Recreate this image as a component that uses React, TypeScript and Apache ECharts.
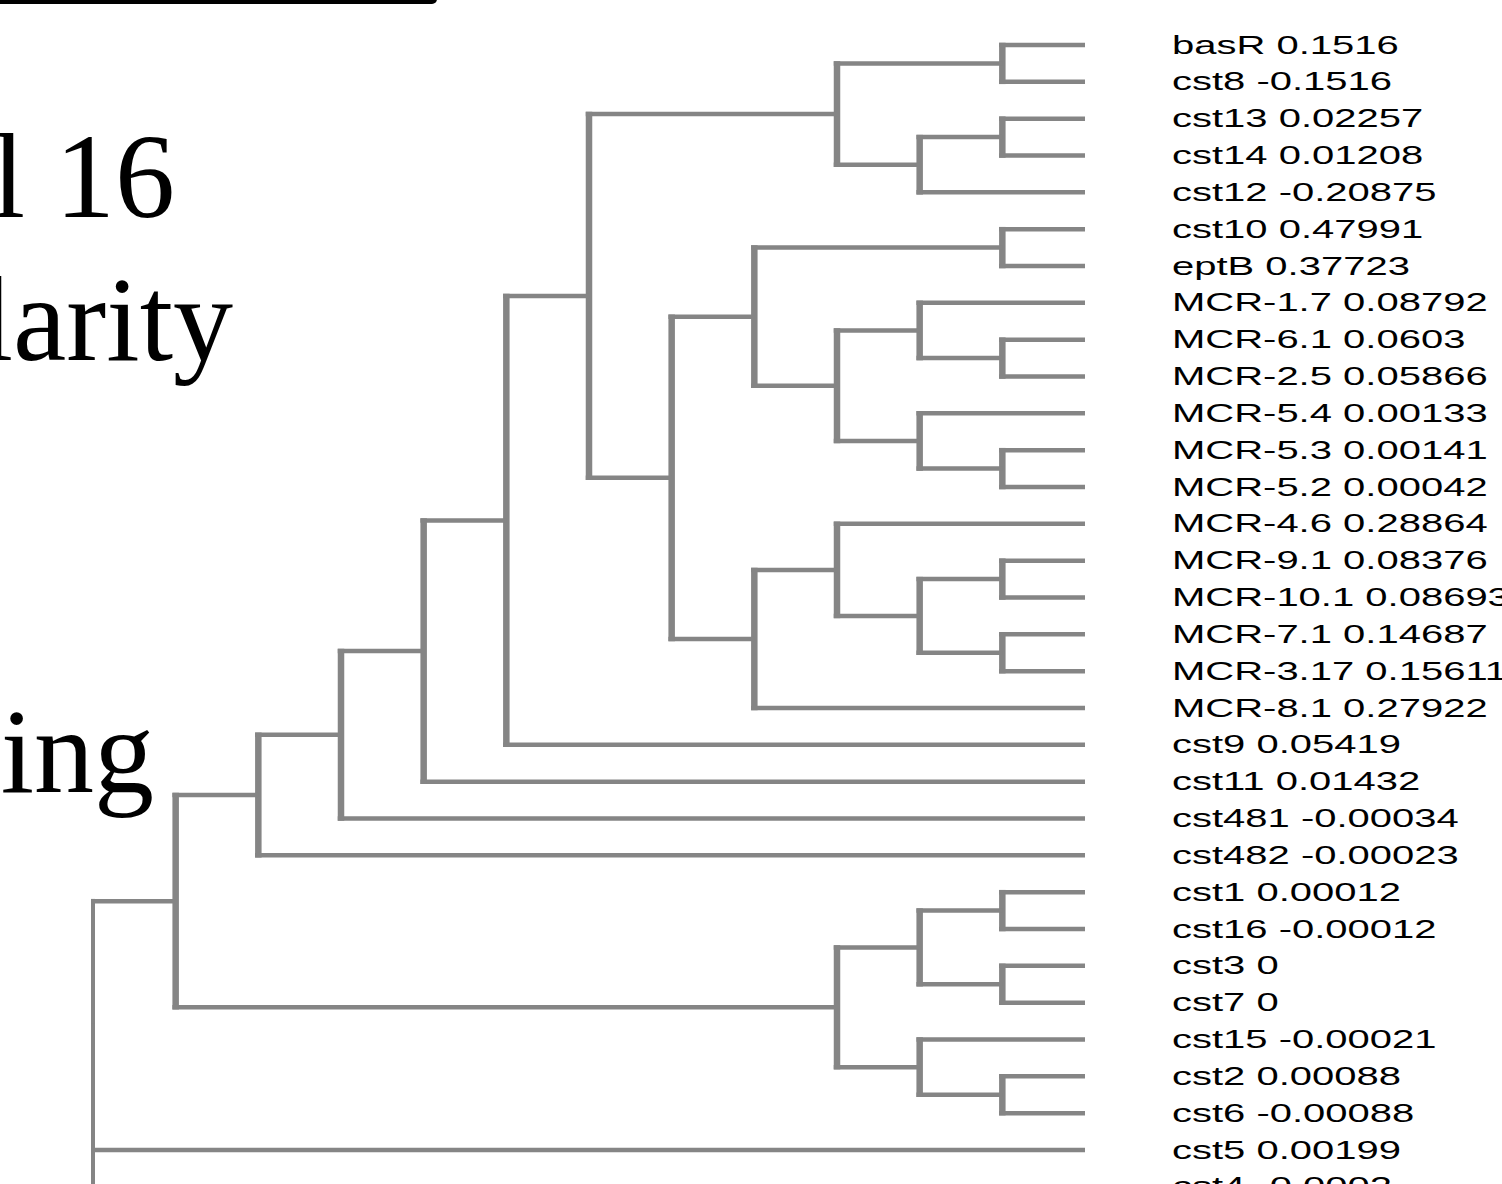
import { useEffect, useRef } from 'react';
import * as echarts from 'echarts';

const leafNames = [
  'basR', 'cst8', 'cst13', 'cst14', 'cst12', 'cst10', 'eptB', 'MCR-1.7', 'MCR-6.1', 'MCR-2.5',
  'MCR-5.4', 'MCR-5.3', 'MCR-5.2', 'MCR-4.6', 'MCR-9.1', 'MCR-10.1', 'MCR-7.1', 'MCR-3.17', 'MCR-8.1',
  'cst9', 'cst11', 'cst481', 'cst482', 'cst1', 'cst16', 'cst3', 'cst7', 'cst15', 'cst2', 'cst6', 'cst5', 'cst4',
];
const leafValues = [
  0.1516, -0.1516, 0.02257, 0.01208, -0.20875, 0.47991, 0.37723, 0.08792, 0.0603, 0.05866,
  0.00133, 0.00141, 0.00042, 0.28864, 0.08376, 0.08693, 0.14687, 0.15611, 0.27922,
  0.05419, 0.01432, -0.00034, -0.00023, 0.00012, -0.00012, 0, 0, -0.00021, 0.00088, -0.00088, 0.00199, -0.0002,
];
// hclust-style merges: [left, right, height]; negative = leaf (1-based), positive = earlier merge row (1-based)
const merges: [number, number, number][] = [
  [-1, -2, 1],
  [-3, -4, 1],
  [2, -5, 2],
  [1, 3, 3],
  [-6, -7, 1],
  [-9, -10, 1],
  [-8, 6, 2],
  [-12, -13, 1],
  [-11, 8, 2],
  [7, 9, 3],
  [5, 10, 4],
  [-15, -16, 1],
  [-17, -18, 1],
  [12, 13, 2],
  [-14, 14, 3],
  [15, -19, 4],
  [11, 16, 5],
  [4, 17, 6],
  [18, -20, 7],
  [19, -21, 8],
  [20, -22, 9],
  [21, -23, 10],
  [-24, -25, 1],
  [-26, -27, 1],
  [23, 24, 2],
  [-29, -30, 1],
  [-28, 26, 2],
  [25, 27, 3],
  [22, 28, 11],
  [29, -31, 12],
  [30, -32, 12],
];
const titleLines = ['l 16', 'larity', 'ing'];

export default function App() {
  const ref = useRef<HTMLDivElement>(null);
  useEffect(() => {
    if (!ref.current) return;
    const chart = echarts.init(ref.current, undefined, { renderer: 'svg' });

    const nodeY: number[] = [];
    const nodeH: number[] = [];
    const segData: number[][] = [];
    const pos = (r: number) => (r < 0 ? { y: -r - 1, h: 0 } : { y: nodeY[r - 1], h: nodeH[r - 1] });
    merges.forEach(([a, b, h]) => {
      const A = pos(a);
      const B = pos(b);
      nodeY.push((A.y + B.y) / 2);
      nodeH.push(h);
      segData.push([h, A.y, A.h, B.y, B.h]);
    });
    const maxH = Math.max(...merges.map((m) => m[2]));
    const leafLabels = leafNames.map((n, i) => `${n} ${leafValues[i]}`);
    const leafData = leafNames.map((_, i) => [0, i]);

    const color = '#858585';
    const hw = 4.5;
    const serif = '"Liberation Serif", "Times New Roman", serif';

    chart.setOption({
      animation: false,
      backgroundColor: '#ffffff',
      grid: { left: 93, width: 992, top: 45, height: 1105 },
      xAxis: { type: 'value', min: 0, max: 12, inverse: true, show: false },
      yAxis: { type: 'value', min: 0, max: 30, inverse: true, show: false },
      graphic: [
        { type: 'rect', shape: { x: -10, y: -30, width: 447, height: 34, r: 5 }, style: { fill: '#000' } },
        {
          type: 'text', x: 175, y: 176,
          style: { text: titleLines[0], fontSize: 120, fontFamily: serif, fill: '#000', align: 'right', verticalAlign: 'middle' },
        },
        {
          type: 'text', x: 233, y: 319,
          style: { text: titleLines[1], fontSize: 120, fontFamily: serif, fill: '#000', align: 'right', verticalAlign: 'middle' },
        },
        {
          type: 'text', x: 154, y: 751,
          style: { text: titleLines[2], fontSize: 120, fontFamily: serif, fill: '#000', align: 'right', verticalAlign: 'middle' },
        },
      ],
      series: [
        {
          type: 'custom',
          coordinateSystem: 'cartesian2d',
          clip: false,
          encode: { x: 0, y: 1 },
          data: segData,
          renderItem: (params: any, api: any) => {
            const h = api.value(0);
            const y1 = api.value(1);
            const h1 = api.value(2);
            const y2 = api.value(3);
            const h2 = api.value(4);
            const p = api.coord([h, y1]);
            const q = api.coord([h, y2]);
            const c1 = api.coord([h1, y1]);
            const c2 = api.coord([h2, y2]);
            const vw = h >= maxH ? 4 : 6.5;
            return {
              type: 'group',
              children: [
                { type: 'line', shape: { x1: c1[0], y1: c1[1], x2: p[0] - vw / 2, y2: p[1] }, style: { stroke: color, lineWidth: hw } },
                { type: 'line', shape: { x1: c2[0], y1: c2[1], x2: q[0] - vw / 2, y2: q[1] }, style: { stroke: color, lineWidth: hw } },
                { type: 'line', shape: { x1: p[0], y1: p[1] - hw / 2, x2: q[0], y2: q[1] + hw / 2 }, style: { stroke: color, lineWidth: vw } },
              ],
            };
          },
        },
        {
          type: 'custom',
          coordinateSystem: 'cartesian2d',
          clip: false,
          encode: { x: 0, y: 1 },
          data: leafData,
          renderItem: (params: any, api: any) => {
            const p = api.coord([api.value(0), api.value(1)]);
            return {
              type: 'text',
              x: p[0] + 87,
              y: p[1],
              scaleX: 1.6,
              style: {
                text: leafLabels[params.dataIndex],
                fontSize: 25,
                fontFamily: '"Liberation Sans", Arial, sans-serif',
                fill: '#000',
                align: 'left',
                verticalAlign: 'middle',
              },
            };
          },
        },
      ],
    });
    return () => chart.dispose();
  }, []);
  return <div ref={ref} style={{ position: 'absolute', left: 0, top: 0, width: 1502, height: 1184 }} />;
}
